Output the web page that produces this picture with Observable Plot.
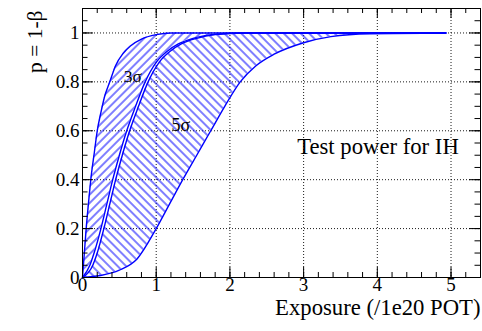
<!DOCTYPE html>
<html><head><meta charset="utf-8">
<script src="https://cdn.jsdelivr.net/npm/d3@7"></script>
<script src="https://cdn.jsdelivr.net/npm/@observablehq/plot@0.6"></script>
<style>
html,body{margin:0;padding:0;background:#fff;}
#chart{width:482px;height:331px;overflow:hidden;}
#chart svg, #chart svg text { font-family: "Liberation Serif", "Times New Roman", Times, serif !important; }
</style></head><body><div id="chart"></div>
<script>
// 3 sigma band: upper (best case) and lower (worst case) curves
const sig3UpperX = [0, 0.025, 0.05, 0.08, 0.12, 0.16, 0.2, 0.25, 0.3, 0.37, 0.45, 0.55, 0.65, 0.8, 1.0, 1.2, 4.93];
const sig3UpperY = [0, 0.1, 0.2, 0.3, 0.42, 0.51, 0.6, 0.675, 0.74, 0.8, 0.867, 0.916, 0.947, 0.975, 0.993, 1, 1];
const sig3LowerX = [0, 0.1, 0.157, 0.25, 0.33, 0.41, 0.5, 0.6, 0.72, 0.85, 1.0, 1.15, 1.3, 1.5, 1.75, 2.1, 4.93];
const sig3LowerY = [0, 0.05, 0.1, 0.2, 0.3, 0.4, 0.5, 0.6, 0.7, 0.8, 0.88, 0.925, 0.955, 0.978, 0.993, 1, 1];
// 5 sigma band
const sig5UpperX = [0, 0.14, 0.2, 0.29, 0.37, 0.45, 0.54, 0.64, 0.76, 0.89, 1.04, 1.19, 1.34, 1.55, 1.8, 2.2, 4.93];
const sig5UpperY = [0, 0.05, 0.1, 0.2, 0.3, 0.4, 0.5, 0.6, 0.7, 0.8, 0.88, 0.925, 0.955, 0.978, 0.993, 1, 1];
const sig5LowerX = [0, 0.24, 0.5, 0.74, 1.0, 1.18, 1.36, 1.55, 1.74, 1.93, 2.14, 2.35, 2.6, 3.0, 3.37, 3.9, 4.93];
const sig5LowerY = [0, 0.008, 0.03, 0.076, 0.2, 0.3, 0.4, 0.5, 0.6, 0.7, 0.8, 0.865, 0.913, 0.96, 0.985, 0.997, 1];

const xMajorTicks = [0, 1, 2, 3, 4, 5];
const yMajorTicks = [0, 0.2, 0.4, 0.6, 0.8, 1];
const xGrid = [1, 2, 3, 4, 5];
const yGrid = [0.2, 0.4, 0.6, 0.8, 1];
const xMinorTicks = d3.range(0, 5.41, 0.2);
const yMinorTicks = d3.range(0, 1.101, 0.05);

const xTitle = "Exposure (/1e20 POT)";
const yTitle = "p = 1-β";
const label3 = "3σ";
const label5 = "5σ";
const panelText = "Test power for IH";

const W = 482, H = 331, mL = 82, mR = 2, mT = 8, mB = 54;
const pW = W - mL - mR, pH = H - mT - mB;
const blue = "#0000ff";

const band3 = sig3UpperX.map((x, i) => ({x1: x, y1: sig3UpperY[i], x2: sig3LowerX[i], y2: sig3LowerY[i]}));
const band5 = sig5UpperX.map((x, i) => ({x1: x, y1: sig5UpperY[i], x2: sig5LowerX[i], y2: sig5LowerY[i]}));
const curve = (xs, ys) => xs.map((x, i) => ({x, y: ys[i]}));

const chart = Plot.plot({
  width: W, height: H,
  marginLeft: mL, marginRight: mR, marginTop: mT, marginBottom: mB,
  x: {domain: [0, 5.4], ticks: xMajorTicks, tickSize: 0, tickPadding: -0.5, tickFormat: d => String(d), label: null},
  y: {domain: [0, 1.1], ticks: yMajorTicks, tickSize: 0, tickPadding: 3, tickFormat: d => String(d), label: null},
  marks: [
    Plot.ruleX(xGrid, {x: d => d, stroke: "black", strokeWidth: 1, strokeDasharray: "1,2", strokeOpacity: 0.9}),
    Plot.ruleY(yGrid, {y: d => d, stroke: "black", strokeWidth: 1, strokeDasharray: "1,2", strokeOpacity: 0.9}),
    Plot.area(band3, {x1: "x1", y1: "y1", x2: "x2", y2: "y2", fill: "url(#hatchA)", curve: "monotone-x"}),
    Plot.area(band5, {x1: "x1", y1: "y1", x2: "x2", y2: "y2", fill: "url(#hatchB)", curve: "monotone-x"}),
    Plot.line(curve(sig3UpperX, sig3UpperY), {x: "x", y: "y", stroke: blue, strokeWidth: 1.4, curve: "monotone-x"}),
    Plot.line(curve(sig3LowerX, sig3LowerY), {x: "x", y: "y", stroke: blue, strokeWidth: 1.4, curve: "monotone-x"}),
    Plot.line(curve(sig5UpperX, sig5UpperY), {x: "x", y: "y", stroke: blue, strokeWidth: 1.4, curve: "monotone-x"}),
    Plot.line(curve(sig5LowerX, sig5LowerY), {x: "x", y: "y", stroke: blue, strokeWidth: 1.4, curve: "monotone-x"}),
    // inward ticks on all four sides
    Plot.tickX(xMinorTicks, {x: d => d, insetTop: pH - 5, stroke: "black"}),
    Plot.tickX(xMajorTicks, {x: d => d, insetTop: pH - 10, stroke: "black"}),
    Plot.tickX(xMinorTicks, {x: d => d, insetBottom: pH - 5, stroke: "black"}),
    Plot.tickX(xMajorTicks, {x: d => d, insetBottom: pH - 10, stroke: "black"}),
    Plot.tickY(yMinorTicks, {y: d => d, insetRight: pW - 5.5, stroke: "black"}),
    Plot.tickY(yMajorTicks, {y: d => d, insetRight: pW - 11, stroke: "black"}),
    Plot.tickY(yMinorTicks, {y: d => d, insetLeft: pW - 5.5, stroke: "black"}),
    Plot.tickY(yMajorTicks, {y: d => d, insetLeft: pW - 11, stroke: "black"}),
    Plot.frame({stroke: "black", strokeWidth: 1}),
    Plot.text([label3], {x: 0.683, y: 0.824, text: d => d, fontSize: 17.5, fill: "black"}),
    Plot.text([label5], {x: 1.334, y: 0.622, text: d => d, fontSize: 18, fill: "black"}),
    Plot.text([panelText], {x: 2.913, y: 0.5345, text: d => d, fontSize: 22.7, textAnchor: "start", fill: "black"}),
    Plot.text([xTitle], {frameAnchor: "bottom-right", text: d => d, textAnchor: "end", dy: 37.5, fontSize: 22.7, fill: "black"}),
    Plot.text([yTitle], {frameAnchor: "top-left", text: d => d, rotate: -90, textAnchor: "end", dx: -55.6, dy: 2, fontSize: 21.5, fill: "black"})
  ]
});

chart.setAttribute("font-size", "19");
chart.style.fontSize = "19px";
chart.style.background = "white";
const ns = "http://www.w3.org/2000/svg";
const defs = document.createElementNS(ns, "defs");
defs.innerHTML =
  '<pattern id="hatchA" patternUnits="userSpaceOnUse" width="6" height="6" patternTransform="rotate(45)">' +
  '<line x1="3" y1="-1" x2="3" y2="7" stroke="#0000ff" stroke-width="1"/></pattern>' +
  '<pattern id="hatchB" patternUnits="userSpaceOnUse" width="6" height="6" patternTransform="rotate(-45)">' +
  '<line x1="3" y1="-1" x2="3" y2="7" stroke="#0000ff" stroke-width="1"/></pattern>';
chart.insertBefore(defs, chart.firstChild);
document.getElementById("chart").appendChild(chart);
</script></body></html>
